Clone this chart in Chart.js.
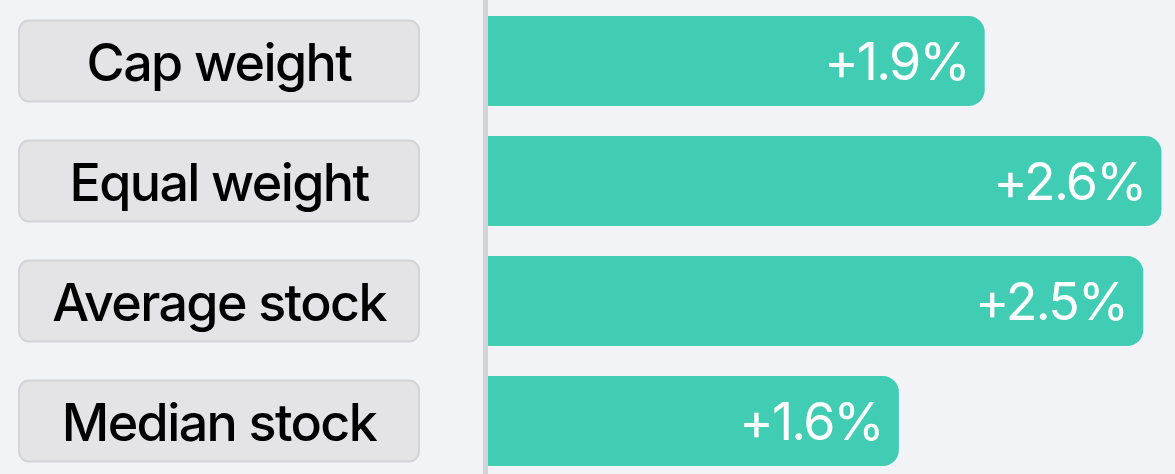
<!DOCTYPE html>
<html>
<head>
<meta charset="utf-8">
<script src="https://cdn.jsdelivr.net/npm/chart.js@4.4.1/dist/chart.umd.min.js"></script>
<style>
html,body{margin:0;padding:0;background:#f2f3f7;overflow:hidden;}
#wrap{position:relative;width:1175px;height:482px;}
</style>
</head>
<body>
<div id="wrap"><canvas id="c"></canvas></div>
<script>
const categories = ["Cap weight", "Equal weight", "Average stock", "Median stock"];
const values = [1.91, 2.59, 2.52, 1.58];
const axisMin = 0;
const axisMax = 2.642;

const labelBoxes = {
  id: 'labelBoxes',
  afterDraw(chart) {
    const ctx = chart.ctx;
    const y = chart.scales.y;
    const area = chart.chartArea;
    ctx.save();
    // vertical baseline
    ctx.fillStyle = '#d4d4d8';
    ctx.fillRect(area.left - 5, 0, 5, chart.height);
    categories.forEach((cat, i) => {
      const cy = y.getPixelForValue(i);
      const bx = 19, bw = 400, bh = 81, r = 10;
      const by = cy - bh / 2;
      ctx.beginPath();
      ctx.roundRect(bx, by, bw, bh, r);
      ctx.fillStyle = '#e4e4e7';
      ctx.fill();
      ctx.lineWidth = 2;
      ctx.strokeStyle = '#d4d4d8';
      ctx.stroke();
      ctx.fillStyle = '#000000';
      ctx.font = '450 52px Inter';
      ctx.letterSpacing = '-1.6px';
      ctx.textAlign = 'center';
      ctx.textBaseline = 'alphabetic';
      ctx.fillText(cat, bx + bw / 2, cy + 19.5);
    });
    // value labels
    const meta = chart.getDatasetMeta(0);
    ctx.font = '400 52px Inter';
    ctx.letterSpacing = '-1.8px';
    ctx.fillStyle = '#ffffff';
    ctx.textAlign = 'right';
    ctx.textBaseline = 'alphabetic';
    meta.data.forEach((bar, i) => {
      const v = values[i];
      ctx.fillText('+' + v.toFixed(1) + '%', bar.x - 16, bar.y + 19);
    });
    ctx.restore();
  }
};

new Chart(document.getElementById('c'), {
  type: 'bar',
  data: {
    labels: categories,
    datasets: [{
      data: values,
      backgroundColor: '#40cdb3',
      borderWidth: 0,
      borderRadius: {topLeft: 0, bottomLeft: 0, topRight: 16, bottomRight: 16},
      borderSkipped: false,
      categoryPercentage: 0.75,
      barPercentage: 1.0
    }]
  },
  options: {
    indexAxis: 'y',
    responsive: true,
    maintainAspectRatio: false,
    animation: false,
    layout: {padding: {left: 488, right: 0, top: 1, bottom: 1}},
    plugins: {legend: {display: false}, tooltip: {enabled: false}},
    scales: {
      x: {min: axisMin, max: axisMax, display: false},
      y: {display: false, grid: {display: false}}
    }
  },
  plugins: [labelBoxes]
});
</script>
</body>
</html>
